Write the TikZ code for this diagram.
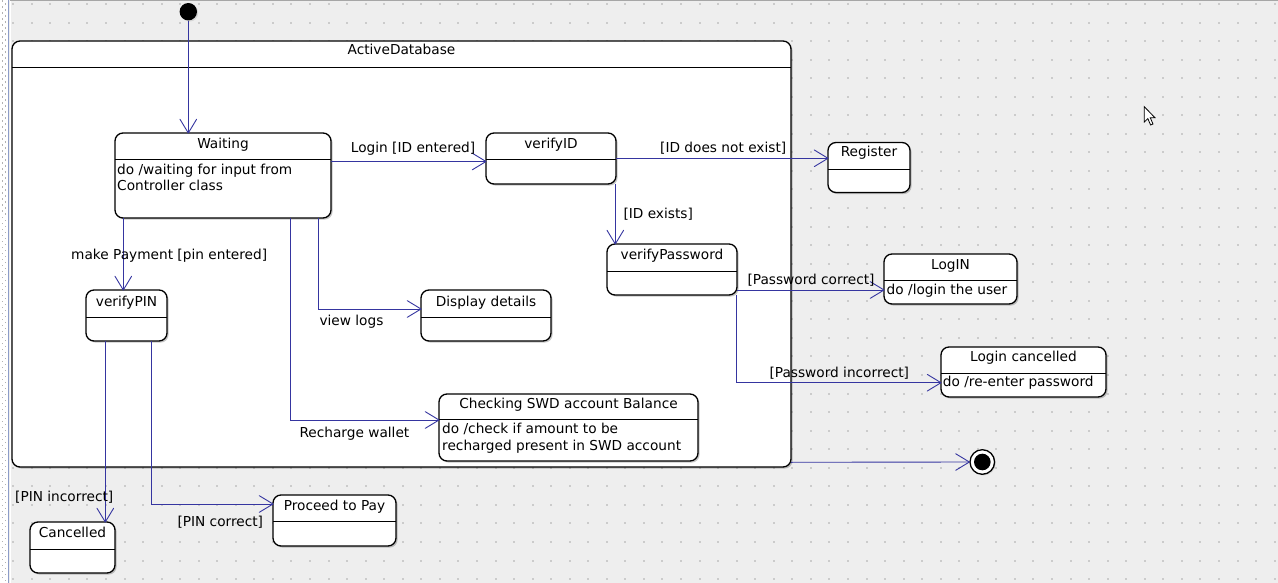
\documentclass[tikz,border=0pt]{standalone}
\usepackage{fontspec}
\setmainfont{DejaVu Sans}
\usetikzlibrary{shadows,decorations.markings}
\definecolor{canvas}{HTML}{EEEEEE}
\definecolor{griddot}{HTML}{CBCBCB}
\definecolor{transblue}{HTML}{3535A0}
\definecolor{railblue}{HTML}{8C9CC8}

\tikzset{
  umlstate/.style={draw=black, line width=1.3pt, fill=white, rounded corners=8pt,
    inner sep=0pt, outer sep=0pt, anchor=north west,
    drop shadow={shadow xshift=1.6pt, shadow yshift=-1.6pt, fill=black, opacity=0.22}},
  divider/.style={draw=black, line width=0.9pt},
  % open V head, as UML tools draw for transitions
  transition/.style={draw=transblue, line width=0.9pt,
    postaction={decorate},
    decoration={markings, mark=at position 1 with {
      \draw[transblue, line width=0.9pt, line cap=round, line join=round]
        (-13.7pt,8.3pt) -- (0pt,0pt) -- (-13.7pt,-8.3pt);}}},
  title/.style={inner sep=0pt, anchor=base},
  txt/.style={inner sep=0pt, anchor=base west},
}

\begin{document}
\begin{tikzpicture}[x=1pt, y=-1pt, font=\fontsize{13.7pt}{16pt}\selectfont]
\useasboundingbox (0,0) rectangle (1278,583);
\fill[canvas] (0,0) rectangle (1278,583);

% editor grid
\foreach \i in {0,...,68}
  \foreach \j in {0,...,31}
    \fill[griddot] ({13.2+18.55*\i-1},{4+18.55*\j-1}) rectangle +(2,2);

% window frame: left rail and top edge
\fill[white] (0,0) rectangle (8,583);
\foreach \j in {0,...,193}
  \fill[black!30] ({1.5+mod(\j,2)*3},{\j*3+0.5}) rectangle +(1.2,1.2);
\draw[railblue, line width=1.2pt] (8.8,0) -- (8.8,583);
\draw[white, line width=0.8pt] (10.2,0) -- (10.2,583);
\draw[black!35, line width=1.4pt] (10,0.7) -- (1278,0.7);

% composite state
\node[umlstate, minimum width=779pt, minimum height=426pt] (activeDB) at (12,41) {};
\draw[divider] (12,67.3) -- (791,67.3);
\node[title] (activeDBT) at (401.5,55) {ActiveDatabase};

% pseudo states
\node[circle, fill=black, minimum size=17.4pt, inner sep=0pt,
  drop shadow={shadow xshift=1.2pt, shadow yshift=-1.2pt, opacity=0.22}] (init) at (188.3,11.7) {};
\node[circle, draw=black, line width=1.3pt, fill=white, minimum size=24.6pt, inner sep=0pt,
  drop shadow={shadow xshift=1.2pt, shadow yshift=-1.2pt, opacity=0.22}] (final) at (982.3,462) {};
\node[circle, fill=black, minimum size=16.6pt, inner sep=0pt] (finalDot) at (982.3,462) {};

% Waiting
\node[umlstate, minimum width=216pt, minimum height=85pt] (waiting) at (115,133) {};
\draw[divider] (115,159) -- (331,159);
\node[title] (waitingT) at (223,149) {Waiting};
\node[txt] (waitingB1) at (117,175) {do /waiting for input from};
\node[txt] (waitingB2) at (117,190.5) {Controller class};

% verifyID
\node[umlstate, minimum width=130pt, minimum height=51pt] (verifyID) at (486,133) {};
\draw[divider] (486,159) -- (616,159);
\node[title] (verifyIDT) at (551,148.3) {verifyID};

% Register
\node[umlstate, minimum width=82pt, minimum height=50pt] (register) at (828,142.5) {};
\draw[divider] (828,169.3) -- (910,169.3);
\node[title] (registerT) at (869,156.7) {Register};

% verifyPassword
\node[umlstate, minimum width=130pt, minimum height=51pt] (verifyPwd) at (607,244) {};
\draw[divider] (607,271.7) -- (737,271.7);
\node[title] (verifyPwdT) at (672,259.3) {verifyPassword};

% LogIN
\node[umlstate, minimum width=133pt, minimum height=50pt] (login) at (884,254) {};
\draw[divider] (884,280) -- (1017,280);
\node[title] (loginT) at (950.5,269) {LogIN};
\node[txt] (loginB) at (886.5,294) {do /login the user};

% Login cancelled
\node[umlstate, minimum width=165pt, minimum height=50pt] (loginCancel) at (941,347) {};
\draw[divider] (941,373.3) -- (1106,373.3);
\node[title] (loginCancelT) at (1023.5,361) {Login cancelled};
\node[txt] (loginCancelB) at (942.7,386.7) {do /re-enter password};

% verifyPIN
\node[umlstate, minimum width=81pt, minimum height=51pt] (verifyPIN) at (86,290) {};
\draw[divider] (86,317.3) -- (167,317.3);
\node[title] (verifyPINT) at (126.5,306) {verifyPIN};

% Display details
\node[umlstate, minimum width=130pt, minimum height=51pt] (display) at (421,290) {};
\draw[divider] (421,317.3) -- (551,317.3);
\node[title] (displayT) at (486,306) {Display details};

% Checking SWD account Balance
\node[umlstate, minimum width=259pt, minimum height=67pt] (checking) at (439,394) {};
\draw[divider] (439,419.3) -- (698,419.3);
\node[title] (checkingT) at (568.5,408.3) {Checking SWD account Balance};
\node[txt] (checkingB1) at (442,433.3) {do /check if amount to be};
\node[txt] (checkingB2) at (442,450.7) {recharged present in SWD account};

% Cancelled
\node[umlstate, minimum width=85pt, minimum height=51pt] (cancelled) at (30,522) {};
\draw[divider] (30,549) -- (115,549);
\node[title] (cancelledT) at (72.5,537.7) {Cancelled};

% Proceed to Pay
\node[umlstate, minimum width=123pt, minimum height=51pt] (proceed) at (273,495) {};
\draw[divider] (273,521.7) -- (396,521.7);
\node[title] (proceedT) at (334.5,510) {Proceed to Pay};

% transitions
\draw[transition] (init.south) -- (init.south |- waiting.north);
\draw[transition] (waiting.east |- 0,161.5) -- (verifyID.west |- 0,161.5);
\draw[transition] (verifyID.east |- 0,158.3) -- (register.west |- 0,158.3);
\draw[transition] (verifyID.south -| 615.3,0) -- (verifyPwd.north -| 615.3,0);
\draw[transition] (verifyPwd.east |- 0,290) -- (login.west |- 0,290);
\draw[transition] (verifyPwd.south -| 736.5,0) |- (loginCancel.west |- 0,382.7);
\draw[transition] (waiting.south -| 123.3,0) -- (verifyPIN.north -| 123.3,0);
\draw[transition] (waiting.south -| 318.3,0) |- (display.west |- 0,309);
\draw[transition] (waiting.south -| 290.7,0) |- (checking.west |- 0,420);
\draw[transition] (verifyPIN.south -| 105.3,0) -- (cancelled.north -| 105.3,0);
\draw[transition] (verifyPIN.south -| 151.7,0) |- (proceed.west |- 0,504);
\draw[transition] (activeDB.east |- 0,462.3) -- (final.west);

% transition labels
\node[txt] (lblLogin) at (350.7,152.7) {Login [ID entered]};
\node[txt] (lblNoID) at (660,152.7) {[ID does not exist]};
\node[txt] (lblIDok) at (623.3,218.3) {[ID exists]};
\node[txt] (lblPwdOk) at (747.3,284.5) {[Password correct]};
\node[txt] (lblPwdBad) at (769.3,377.7) {[Password incorrect]};
\node[txt] (lblPay) at (71,259.3) {make Payment [pin entered]};
\node[txt] (lblLogs) at (319.3,325) {view logs};
\node[txt] (lblRecharge) at (299.3,437.3) {Recharge wallet};
\node[txt] (lblPinBad) at (15,501.7) {[PIN incorrect]};
\node[txt] (lblPinOk) at (177.3,526.7) {[PIN correct]};

% mouse pointer
\draw[black, fill=white, line width=0.8pt, line join=miter]
  (1144.3,106.7) -- (1144.3,122) -- (1147.8,118.6) -- (1150.6,125) -- (1153,124)
  -- (1150.3,117.8) -- (1155,117.8) -- cycle;
\end{tikzpicture}
\end{document}
